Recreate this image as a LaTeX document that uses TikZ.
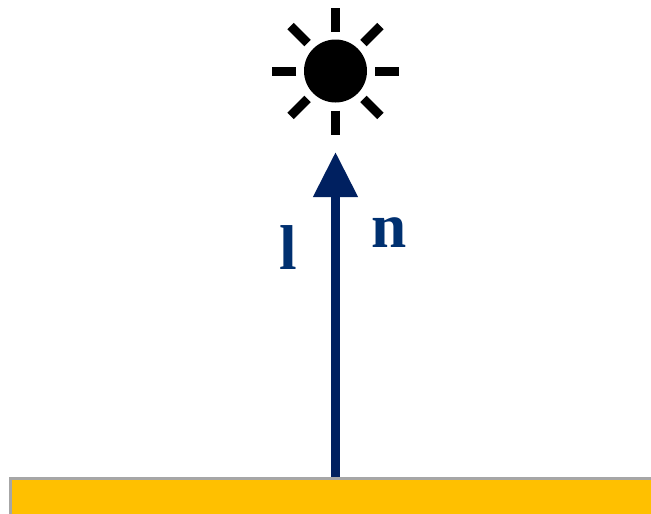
\documentclass[tikz,border=0pt]{standalone}
\usepackage{fontspec}
\setmainfont{Liberation Serif}
\usetikzlibrary{arrows.meta}
\definecolor{navyarrow}{HTML}{002060}
\definecolor{navylabel}{HTML}{003070}
\definecolor{surfacegold}{HTML}{FFC000}
\definecolor{surfaceedge}{HTML}{A6A6A6}
\tikzset{
	sunray/.style={draw=black, line width=6.75pt},
	vectorlabel/.style={text=navylabel, font=\fontsize{47.5}{50}\selectfont\bfseries, inner sep=0pt, anchor=base}
}
\begin{document}
\begin{tikzpicture}[x=0.75pt, y=-0.75pt]
	\clip (0,0) rectangle (651,514);
	\useasboundingbox (0,0) rectangle (651,514);

	\fill[white] (0,0) rectangle (651,514);

	\node[draw=surfaceedge, fill=surfacegold, line width=2.25pt, rectangle, minimum width=487.5pt, minimum height=37.5pt, inner sep=0pt, anchor=north west] (surface) at (8.5,476.5) {};

	\node[circle, fill=black, minimum size=47.25pt, inner sep=0pt] (sun) at (335.5,71) {};
	\foreach \a in {0,45,...,315}
		{
			\draw[sunray] ([shift={(\a:39.5)}]sun.center) -- ([shift={(\a:63.5)}]sun.center);
		}

	\coordinate (foot) at (surface.north west -| sun.center);
	\coordinate (tip) at (335.5,152);
	\draw[navyarrow, line width=6.5pt, -{Triangle[length=33.75pt, width=32pt]}] (foot) -- (tip);

	\node[vectorlabel] (lightlabel) at (288,269) {l};
	\node[vectorlabel] (normallabel) at (389,247) {n};
\end{tikzpicture}
\end{document}
